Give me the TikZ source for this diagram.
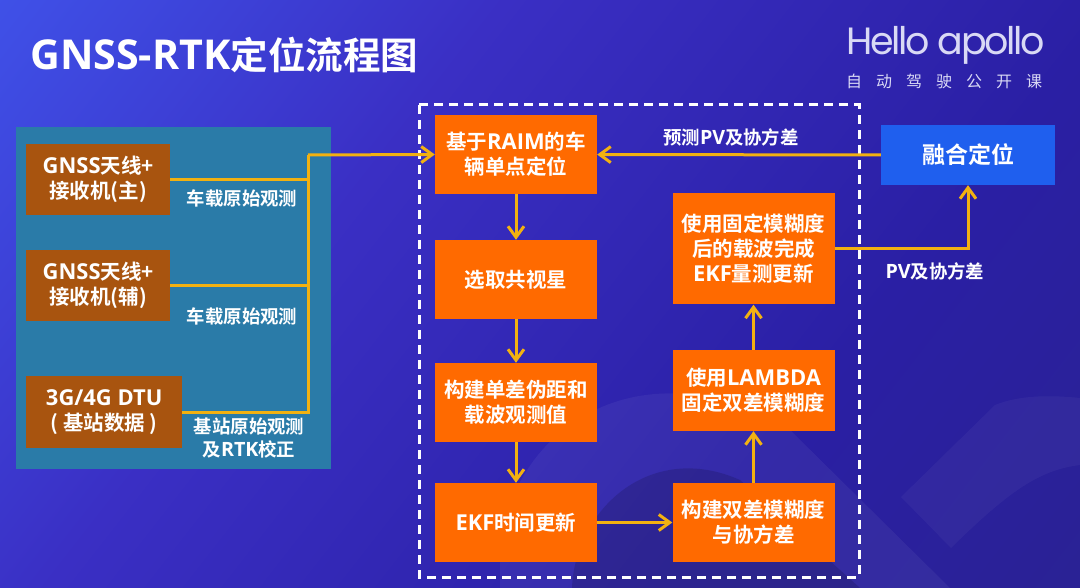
\documentclass[tikz,border=0pt]{standalone}
\usepackage{fontspec}
\setmainfont{Noto Sans CJK SC}[BoldFont={* Bold}]
\newfontfamily\logofont{Poppins}[LetterSpace=-6]
\newfontfamily\latinfont{Open Sans}[BoldFont={* Bold},Scale=1.07]
\usetikzlibrary{arrows.meta,positioning}
\definecolor{panelblue}{HTML}{2A7BA8}
\definecolor{brownbox}{HTML}{A8540F}
\definecolor{orangebox}{HTML}{FF6A00}
\definecolor{fusionblue}{HTML}{1F5FEE}
\definecolor{linegold}{HTML}{F2B111}
\definecolor{logotext}{HTML}{D9D9F5}
\definecolor{bga}{HTML}{2A2488}
\definecolor{bgb}{HTML}{2A1FA4}
\definecolor{bgc}{HTML}{3A2FC4}
\definecolor{bgd}{HTML}{3F4FE6}
\definecolor{bge}{HTML}{3F68F2}
\pgfdeclareverticalshading{slidebg}{100bp}{
  color(0bp)=(bga); color(34bp)=(bgb);
  color(62bp)=(bgc); color(84bp)=(bgd); color(100bp)=(bge)}
\tikzset{
  srcbox/.style={fill=brownbox, text=white, font=\bfseries\fontsize{20.5}{25}\selectfont, align=center, inner sep=0pt, anchor=north west},
  stepbox/.style={fill=orangebox, text=white, font=\bfseries\fontsize{20.5}{25}\selectfont, align=center, inner sep=0pt, minimum width=162pt},
  edgetext/.style={text=white, font=\bfseries\fontsize{18.4}{23}\selectfont, align=center, inner sep=0pt},
  goldline/.style={draw=linegold, line width=3pt},
  goldarrow/.style={goldline, -{Straight Barb[length=11pt,width=16pt,line width=3pt]}},
}
\begin{document}
\begin{tikzpicture}[x=1pt,y=-1pt]
  \useasboundingbox (0,0) rectangle (1080,588);
  \shade[shading=slidebg, shading angle=52] (0,0) rectangle (1080,588);
  % faint shapes at the bottom
  \fill[white,opacity=.04] (901,497) -- (995,405) .. controls (1020,395) and (1050,395) .. (1080,398) -- (1080,465) .. controls (1040,470) and (1010,490) .. (951,548) -- cycle;
  \fill[white,opacity=.05] (500,588) -- (500,550) .. controls (510,430) and (640,340) .. (790,430) -- (950,588) -- cycle;
  \fill[black,opacity=.14] (572,588) .. controls (575,510) and (650,440) .. (740,480) -- (860,588) -- cycle;

  \node[text=white, anchor=west, inner sep=0pt, font=\bfseries\fontsize{37.5}{44}\selectfont] (title) at (30,55) {{\latinfont\bfseries\fontsize{38.5}{44}\selectfont GNSS-RTK}定位流程图};
  \node[text=logotext, anchor=west, inner sep=0pt, font=\logofont\fontsize{38}{44}\selectfont] (logo) at (846,45) {Hello apollo};
  \node[text=logotext, anchor=west, inner sep=0pt, font=\fontsize{16}{18}\selectfont] (slogan) at (846,81) {自\hspace{14pt}动\hspace{14pt}驾\hspace{14pt}驶\hspace{14pt}公\hspace{14pt}开\hspace{14pt}课};

  \fill[panelblue] (16,127) rectangle (331,469);
  \draw[white, line width=3pt, dash pattern=on 9pt off 6pt] (419,105) rectangle (859,577);

  \node[srcbox, minimum width=144pt, minimum height=71pt] (ant1) at (26,144) {{\latinfont\bfseries GNSS}天线+\\接收机(主)};
  \node[srcbox, minimum width=144pt, minimum height=71pt] (ant2) at (26,250) {{\latinfont\bfseries GNSS}天线+\\接收机(辅)};
  \node[srcbox, minimum width=156pt, minimum height=72pt] (dtu) at (26,376) {{\latinfont\bfseries 3G/4G DTU}\\( 基站数据 )};

  \node[stepbox, minimum height=79pt] (raim) at (516,154.5) {基于{\latinfont\bfseries RAIM}的车\\辆单点定位};
  \node[stepbox, minimum height=79pt] (sat) at (516,279.5) {选取共视星};
  \node[stepbox, minimum height=79pt] (obs) at (516,402.5) {构建单差伪距和\\载波观测值};
  \node[stepbox, minimum height=79pt] (ekf) at (516,522.5) {{\latinfont\bfseries EKF}时间更新};
  \node[stepbox, minimum height=79pt] (dd) at (753.5,522.5) {构建双差模糊度\\与协方差};
  \node[stepbox, minimum height=81pt] (lambda) at (753.5,390.5) {使用{\latinfont\bfseries LAMBDA}\\固定双差模糊度};
  \node[stepbox, minimum height=111pt] (fix) at (753.5,249) {使用固定模糊度\\后的载波完成\\{\latinfont\bfseries EKF}量测更新};
  \node[fill=fusionblue, text=white, inner sep=0pt, minimum width=174pt, minimum height=60pt, font=\bfseries\fontsize{23}{26}\selectfont] (fusion) at (968,155) {融合定位};

  \coordinate (bus) at (308,155);
  \draw[goldline] (ant1.east) -- (ant1.east -| bus);
  \draw[goldline] (ant2.east) -- (ant2.east -| bus);
  \draw[goldline] (dtu.east) -- (dtu.east -| bus) -- (bus);
  \draw[goldarrow] (bus) -- (raim.west);

  \draw[goldarrow] (raim) -- (sat);
  \draw[goldarrow] (sat) -- (obs);
  \draw[goldarrow] (obs) -- (ekf);
  \draw[goldarrow] (ekf) -- (dd);
  \draw[goldarrow] (dd) -- (lambda);
  \draw[goldarrow] (lambda) -- (fix);
  \draw[goldarrow] (fusion) -- (raim);
  \draw[goldarrow] (fix.east) -| (fusion.south);

  \node[edgetext] (obs1) at (242,198) {车载原始观测};
  \node[edgetext] (obs2) at (242,316) {车载原始观测};
  \node[edgetext] (obs3) at (249,438) {基站原始观测\\及{\latinfont\bfseries RTK}校正};
  \node[edgetext] (pred) at (731,137) {预测{\latinfont\bfseries PV}及协方差};
  \node[edgetext] (pv) at (935,271) {{\latinfont\bfseries PV}及协方差};
\end{tikzpicture}
\end{document}
